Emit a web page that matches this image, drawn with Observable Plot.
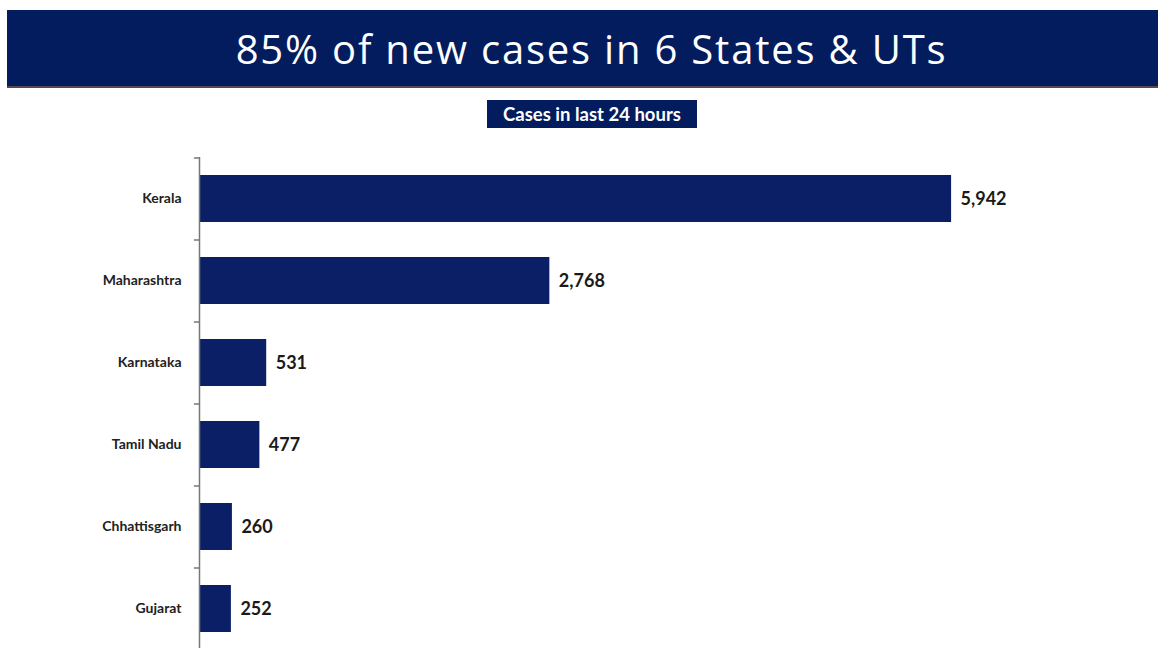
<!DOCTYPE html>
<html>
<head>
<meta charset="utf-8">
<script src="https://cdn.jsdelivr.net/npm/d3@7"></script>
<script src="https://cdn.jsdelivr.net/npm/@observablehq/plot@0.6"></script>
<style>
  html, body { margin: 0; padding: 0; background: #fff; width: 1164px; height: 648px; overflow: hidden; position: relative; }
  #banner { position: absolute; left: 7px; top: 10px; width: 1151px; height: 78px; background: #021c5e;
    border-bottom: 2px solid #5a4650; color: #fff; font-family: "Open Sans", Lato, sans-serif; font-size: 40px; letter-spacing: 1.8px;
    display: flex; align-items: center; justify-content: center; padding-left: 18px; box-sizing: border-box; }
  #sub { position: absolute; left: 487px; top: 100px; width: 210px; height: 28px; background: #021c5e; color: #fff;
    font-family: Lato, "Open Sans", sans-serif; font-weight: bold; font-size: 18.5px; display: flex; align-items: center; justify-content: center; }
  #chart { position: absolute; left: 0; top: 140px; }
</style>
</head>
<body>
<div id="banner">85% of new cases in 6 States &amp; UTs</div>
<div id="sub">Cases in last 24 hours</div>
<div id="chart"></div>
<script>
const states = ["Kerala", "Maharashtra", "Karnataka", "Tamil Nadu", "Chhattisgarh", "Gujarat"];
const cases = [5942, 2768, 531, 477, 260, 252];

const data = states.map((s, i) => ({state: s, cases: cases[i]}));
const band = 82;

const chart = Plot.plot({
  width: 1164,
  height: 17 + band * states.length + 20,
  marginLeft: 199,
  marginRight: 79,
  marginTop: 17,
  marginBottom: 20,
  style: {fontFamily: "Lato, 'Open Sans', sans-serif", background: "transparent"},
  x: {domain: [0, 7000], axis: null},
  y: {domain: states, paddingInner: 0.43, paddingOuter: 0.215, label: null},
  marks: [
    Plot.axisY({tickSize: 0, tickPadding: 18, fontSize: 14, fontWeight: "bold", fill: "#222", label: null}),
    Plot.barX(data, {y: "state", x: "cases", fill: "#0b1f66"}),
    Plot.text(data, {y: "state", x: "cases", text: d => d3.format(",")(d.cases), dx: 9, textAnchor: "start",
      fontSize: 18, fontWeight: "bold", fill: "#1a1a1a"}),
    Plot.ruleX([0], {stroke: "#777", strokeWidth: 1.5}),
    Plot.ruleY(states, {y: d => d, x1: -40, x2: 0, dy: -band / 2, stroke: "#777", strokeWidth: 1.5})
  ]
});
document.getElementById("chart").appendChild(chart);
</script>
</body>
</html>
